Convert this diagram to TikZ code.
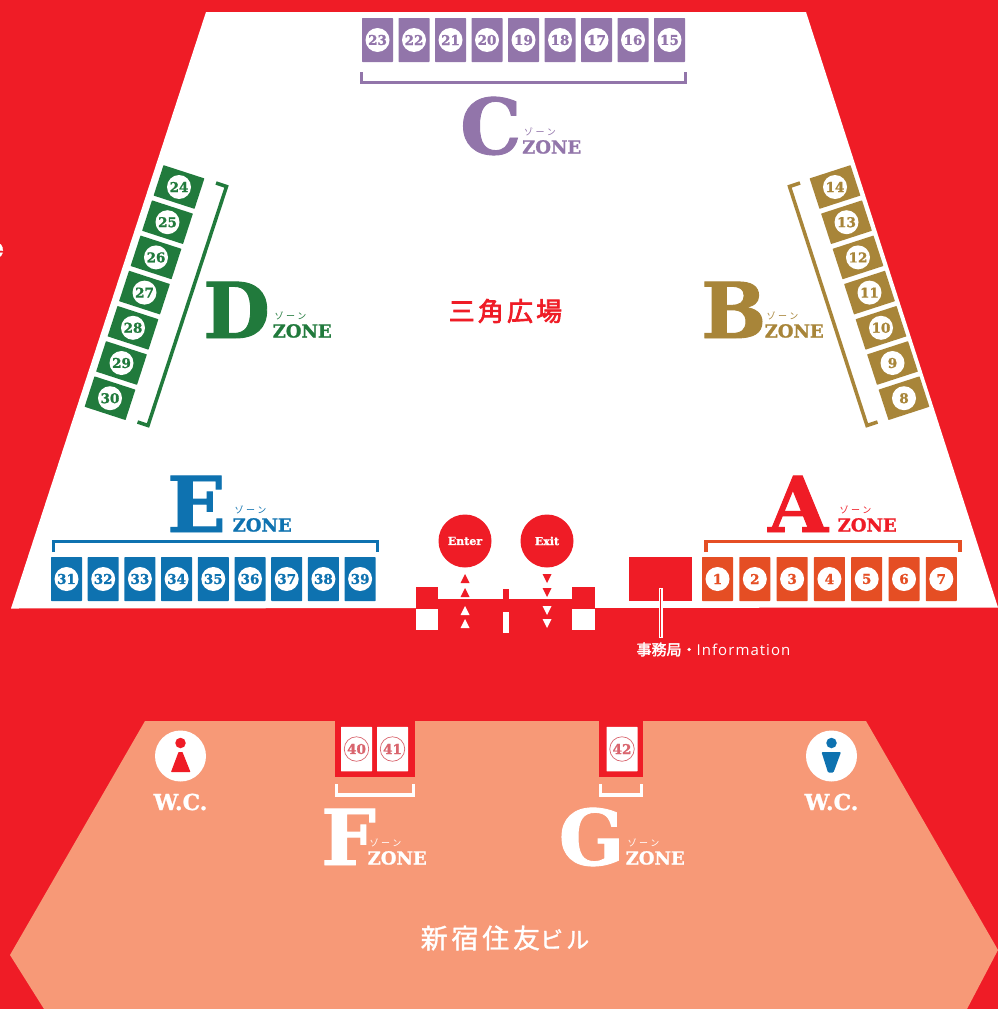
\documentclass[tikz,border=0pt]{standalone}
\usepackage{fontspec}
\setmainfont{DejaVu Serif}[BoldFeatures={FakeBold=1.2}]
\newfontfamily\jp{Noto Sans CJK JP}[FakeBold=2]
\newfontfamily\jpwide{Noto Sans CJK JP}[LetterSpace=12,FakeBold=2.5]
\newfontfamily\jplight{Noto Sans CJK JP}[LetterSpace=14,FakeBold=1.2]
\newfontfamily\jptiny{Noto Sans CJK JP}[LetterSpace=30]
\newfontfamily\infofont{Open Sans}[LetterSpace=7]
\definecolor{mapred}{HTML}{EF1C26}
\definecolor{salmon}{HTML}{F79977}
\definecolor{zonec}{HTML}{9275AA}
\definecolor{zoned}{HTML}{217A3C}
\definecolor{zoneb}{HTML}{A88539}
\definecolor{zonee}{HTML}{0E72B0}
\definecolor{zonea}{HTML}{E54E24}
\definecolor{softred}{HTML}{D9656E}
\tikzset{
  boothbox/.style={rectangle,inner sep=0pt,rounded corners=0.6pt,minimum width=31pt,minimum height=44pt},
  sidebox/.style={rectangle,inner sep=0pt,rounded corners=0.4pt,minimum width=43pt,minimum height=32pt},
  numdisc/.style={circle,fill=white,inner sep=0pt,minimum size=24pt,font=\bfseries\fontsize{13.5}{13.5}\selectfont},
  bracketline/.style={line width=3.5pt,miter limit=10},
  bigletter/.style={anchor=base west,inner sep=0pt,font=\bfseries\fontsize{77}{77}\selectfont},
  zoneword/.style={anchor=base west,inner sep=0pt,font=\bfseries\fontsize{18}{18}\selectfont},
  kanaword/.style={anchor=center,inner sep=0pt,font=\jptiny\fontsize{9}{9}\selectfont},
}
% name, letter, letter x, baseline y, ZONE x, colour
\newcommand{\zonemark}[6]{%
  \node[bigletter,text=#6] (big#1) at (#3,#4) {#2};
  \node[zoneword,text=#6] (word#1) at (#5,#4-0.5) {ZONE};
  \node[kanaword,text=#6] (kana#1) at (#5+18,#4-22.5) {ゾーン};
}
\begin{document}
\begin{tikzpicture}[x=1pt,y=-1pt]
\useasboundingbox (0,0) rectangle (998,1009);
\fill[mapred] (0,0) rectangle (998,1009);
% plaza and building
\fill[white] (206,12) -- (806,12) -- (998,607.5) -- (11,608.5) -- cycle;
\fill[salmon] (145,721) -- (866,721) -- (998,950) -- (967,1009) -- (44,1009) -- (10,955) -- cycle;
% cropped stray letter at the left edge
\node[text=white,inner sep=0pt,font=\bfseries\fontsize{27}{27}\selectfont] (stray) at (-4.5,250) {e};
% C zone
\foreach \n [count=\i from 0] in {23,22,21,20,19,18,17,16,15}{
  \node[boothbox,fill=zonec] (b\n) at (377.5+36.5*\i,40) {};
  \node[numdisc,text=zonec] (n\n) at (b\n) {\n};
}
\draw[bracketline,zonec] (361.5,72) -- (361.5,82.5) -- (685.5,82.5) -- (685.5,72);
\zonemark{C}{C}{460}{154}{522}{zonec}
% D zone
\foreach \n [count=\i from 0] in {24,...,30}{
  \node[sidebox,rotate=-18,fill=zoned] (b\n) at (179-11.5*\i,187+35.2*\i) {};
  \node[numdisc,text=zoned] (n\n) at (b\n) {\n};
}
\draw[bracketline,zoned] (216,183) -- (226.5,186.5) -- (148,425.5) -- (137.5,422);
\zonemark{D}{D}{203}{338}{272.5}{zoned}
% B zone
\foreach \n [count=\i from 0] in {14,13,12,11,10,9,8}{
  \node[sidebox,rotate=18,fill=zoneb] (b\n) at (835+11.5*\i,187+35.2*\i) {};
  \node[numdisc,text=zoneb] (n\n) at (b\n) {\n};
}
\draw[bracketline,zoneb] (800,183) -- (789.5,186.5) -- (867,425.5) -- (877.5,422);
\zonemark{B}{B}{701}{338}{764.5}{zoneb}
% E zone
\foreach \n [count=\i from 0] in {31,...,39}{
  \node[boothbox,fill=zonee] (b\n) at (66.5+36.7*\i,579) {};
  \node[numdisc,text=zonee] (n\n) at (b\n) {\n};
}
\draw[bracketline,zonee] (53.5,552) -- (53.5,541.5) -- (377.5,541.5) -- (377.5,552);
\zonemark{E}{E}{167}{532}{232.5}{zonee}
% A zone
\foreach \n [count=\i from 0] in {1,...,7}{
  \node[boothbox,fill=zonea] (b\n) at (717.5+37.3*\i,579) {};
  \node[numdisc,text=zonea] (n\n) at (b\n) {\n};
}
\draw[bracketline,zonea] (706,552) -- (706,541.5) -- (960,541.5) -- (960,552);
\zonemark{A}{A}{768}{532}{837.5}{mapred}
% entrance gate
\fill[mapred] (416,587) rectangle (438,608.6);
\fill[mapred] (572,587) rectangle (595,608.6);
\fill[mapred] (438,599) rectangle (572,609);
\fill[mapred] (503,589) rectangle (509,599);
\fill[white] (416,608.5) rectangle (438,630);
\fill[white] (572,608.5) rectangle (595,630);
\fill[white] (503,612) rectangle (509,633);
\node[circle,fill=mapred,text=white,inner sep=0pt,minimum size=53pt,font=\bfseries\fontsize{11}{11}\selectfont] (enter) at (465,541) {\raisebox{-1.5pt}{Enter}};
\node[circle,fill=mapred,text=white,inner sep=0pt,minimum size=53pt,font=\bfseries\fontsize{11}{11}\selectfont] (exit) at (547,541) {\raisebox{-1.5pt}{Exit}};
\foreach \t in {574,588}{
  \fill[mapred] (465,\t) -- (469.5,\t+9) -- (460.5,\t+9) -- cycle;
  \fill[mapred] (547,\t+9) -- (542.5,\t) -- (551.5,\t) -- cycle;
}
\foreach \t in {606,619}{
  \fill[white] (465,\t) -- (469.5,\t+9) -- (460.5,\t+9) -- cycle;
  \fill[white] (547,\t+9) -- (542.5,\t) -- (551.5,\t) -- cycle;
}
% information office
\node[rectangle,fill=mapred,inner sep=0pt,minimum width=63.5pt,minimum height=44pt] (office) at (660.5,579) {};
\node[inner sep=0pt,text=white,anchor=center,font=\fontsize{15}{15}\selectfont] (info) at (713.5,649.5) {{\jp 事務局}{\jp ・}{\infofont Information}};
\coordinate (officeTop) at (660.5,588);
\coordinate (officeEnd) at (660.5,638);
\draw[white,line width=4pt] (officeTop) -- (officeEnd);
\draw[mapred,line width=1.6pt] (660.5,589) -- (660.5,637);
% plaza labels
\node[inner sep=0pt,text=mapred,font=\jpwide\fontsize{26}{26}\selectfont] (plaza) at (505.5,311) {三角広場};
\node[inner sep=0pt,text=white,font=\jplight\fontsize{27}{27}\selectfont] (bldg) at (505,938) {新宿住友{\fontsize{23}{23}\selectfont ビル}};
% F and G shops
\fill[mapred] (335,721) rectangle (415,776.5);
\fill[mapred] (599,721) rectangle (643,776.5);
\foreach \n/\cx in {40/356.5,41/392.5,42/622}{
  \node[rectangle,fill=white,inner sep=0pt,rounded corners=0.5pt,minimum width=31pt,minimum height=44.5pt] (b\n) at (\cx,749) {};
  \node[circle,draw=softred,line width=0.7pt,text=softred,inner sep=0pt,minimum size=24.5pt,font=\bfseries\fontsize{13.5}{13.5}\selectfont] (n\n) at (b\n) {\n};
}
\draw[bracketline,white] (336.5,784) -- (336.5,795) -- (413.5,795) -- (413.5,784);
\draw[bracketline,white] (600.5,784) -- (600.5,795) -- (641.5,795) -- (641.5,784);
\zonemark{F}{F}{321}{865}{367.5}{white}
\zonemark{G}{G}{558.5}{865}{625.5}{white}
% toilets
\node[circle,fill=white,inner sep=0pt,minimum size=51pt] (wcl) at (180.5,756) {};
\node[circle,fill=mapred,inner sep=0pt,minimum size=10.5pt] (headl) at (180.5,743) {};
\fill[mapred,rounded corners=0.6pt] (178.5,752) -- (182.5,752) -- (190.5,772) -- (171,772) -- cycle;
\node[circle,fill=white,inner sep=0pt,minimum size=51pt] (wcr) at (831.5,756) {};
\node[circle,fill=zonee,inner sep=0pt,minimum size=10.5pt] (headr) at (831.5,743) {};
\fill[zonee,rounded corners=1pt] (821.5,752) -- (841,752) -- (833.5,772.5) -- (828,772.5) -- cycle;
\node[inner sep=0pt,text=white,font=\bfseries\fontsize{22}{22}\selectfont] (wcltext) at (180.5,802) {W.C.};
\node[inner sep=0pt,text=white,font=\bfseries\fontsize{22}{22}\selectfont] (wcrtext) at (831.5,802) {W.C.};
\end{tikzpicture}
\end{document}
